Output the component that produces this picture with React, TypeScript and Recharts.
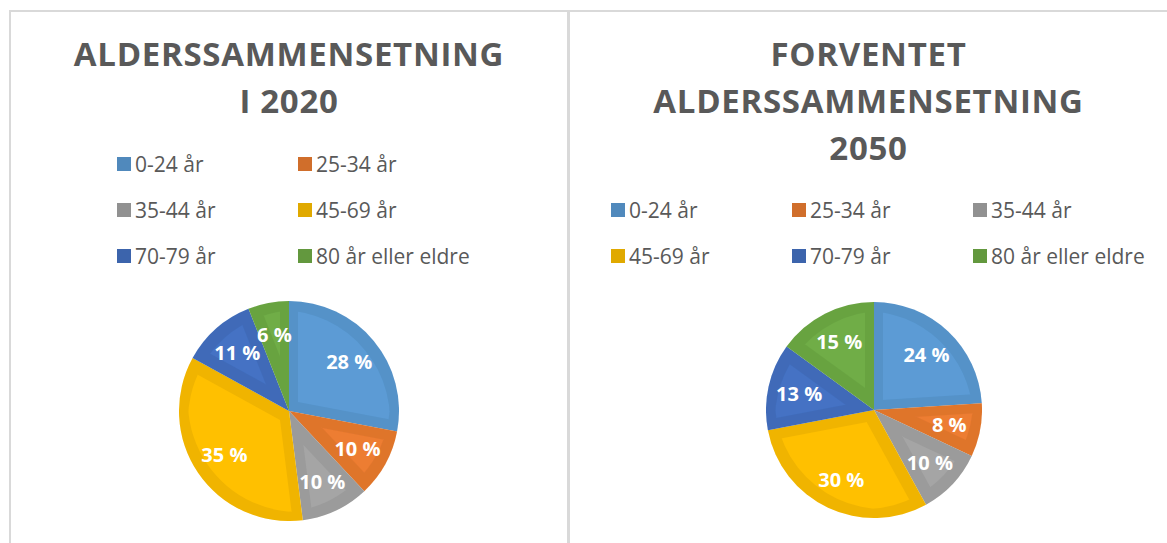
import { PieChart, Pie, Cell, Legend } from 'recharts'

const ageGroups = ['0-24 år', '25-34 år', '35-44 år', '45-69 år', '70-79 år', '80 år eller eldre']
const share2020 = [28, 10, 10, 35, 11, 6]
const share2050 = [24, 8, 10, 30, 13, 15]

const titleLeft = ['ALDERSSAMMENSETNING', 'I 2020']
const titleRight = ['FORVENTET', 'ALDERSSAMMENSETNING', '2050']

// office palette: face colour + darker rim
const fills = ['#5B9BD5', '#ED7D31', '#A5A5A5', '#FFC000', '#4472C4', '#70AD47']
const rims = ['#5089BC', '#D06E2B', '#919191', '#E0A900', '#3C64AC', '#63983E']

const GREY = '#595959'
const LINE = '#d9d9d9'
const FONT = '"Open Sans", "DejaVu Sans", sans-serif'
const RADIAN = Math.PI / 180

const toRows = (values: number[]) => ageGroups.map((name, i) => ({ name, value: values[i] }))

function renderLabel(props: any) {
  const { cx, cy, midAngle, outerRadius, value } = props
  const r = outerRadius * 0.71
  const x = cx + r * Math.cos(-midAngle * RADIAN)
  const y = cy + r * Math.sin(-midAngle * RADIAN)
  return (
    <text x={x} y={y} fill="#fff" textAnchor="middle" dominantBaseline="central"
      style={{ fontFamily: FONT, fontWeight: 700, fontSize: 20 }}>
      {`${value} %`}
    </text>
  )
}

function makeLegend(cols: number) {
  return function LegendContent(props: any) {
    const items = props.payload ?? []
    return (
      <div style={{ display: 'grid', gridTemplateColumns: `repeat(${cols}, 181px)`, gridAutoRows: 46 }}>
        {items.map((p: any, i: number) => (
          <div key={i} style={{ display: 'flex', alignItems: 'center' }}>
            <span style={{ width: 14, height: 14, background: rims[i], marginRight: 4, flex: 'none' }} />
            <span style={{ fontFamily: FONT, fontSize: 21, color: GREY, lineHeight: 1, whiteSpace: 'nowrap' }}>
              {p.value}
            </span>
          </div>
        ))}
      </div>
    )
  }
}

function Title({ lines, left, width }: { lines: string[]; left: number; width: number }) {
  return (
    <div style={{
      position: 'absolute', left, top: 30, width, textAlign: 'center',
      fontFamily: FONT, fontWeight: 700, fontSize: 33, lineHeight: '47px',
      letterSpacing: 0.7, color: GREY,
    }}>
      {lines.map((l, i) => <div key={i}>{l}</div>)}
    </div>
  )
}

function AgePie({ values, cx, cy, r, legendLeft, legendTop, cols, width }: any) {
  return (
    <PieChart width={width} height={531} margin={{ top: 0, right: 0, bottom: 0, left: 0 }} className="inset-pie">
      <Pie
        data={toRows(values)}
        dataKey="value"
        nameKey="name"
        cx={cx}
        cy={cy}
        outerRadius={r}
        startAngle={90}
        endAngle={-270}
        stroke="none"
        labelLine={false}
        label={renderLabel}
        isAnimationActive={false}
      >
        {values.map((_: number, i: number) => <Cell key={i} fill={fills[i]} />)}
      </Pie>
      <Legend
        layout="horizontal"
        verticalAlign="middle"
        align="center"
        content={makeLegend(cols)}
        wrapperStyle={{ left: legendLeft, top: legendTop, width: cols * 181, height: 'auto' }}
      />
    </PieChart>
  )
}

export default function App() {
  return (
    <div style={{ position: 'absolute', left: 0, top: 0, width: 1167, height: 543, background: '#fff', overflow: 'hidden' }}>
      <svg width={0} height={0} style={{ position: 'absolute' }}>
        <defs>
          <filter id="rim" x="-5%" y="-5%" width="110%" height="110%">
            <feMorphology in="SourceAlpha" operator="erode" radius={9} result="core" />
            <feComposite in="SourceAlpha" in2="core" operator="out" result="ring" />
            <feFlood floodColor="#000" floodOpacity={0.13} />
            <feComposite in2="ring" operator="in" result="shade" />
            <feMerge>
              <feMergeNode in="SourceGraphic" />
              <feMergeNode in="shade" />
            </feMerge>
          </filter>
        </defs>
      </svg>
      <style>{`.inset-pie .recharts-pie-sector path { filter: url(#rim); }`}</style>

      {/* panel borders */}
      <div style={{ position: 'absolute', left: 9, top: 10, width: 1158, height: 2, background: LINE }} />
      <div style={{ position: 'absolute', left: 9, top: 10, width: 2, height: 533, background: LINE }} />
      <div style={{ position: 'absolute', left: 567, top: 10, width: 3, height: 533, background: LINE }} />

      <div style={{ position: 'absolute', left: 11, top: 12 }}>
        <AgePie values={share2020} cx={278} cy={399} r={110} legendLeft={106} legendTop={129} cols={2} width={556} />
      </div>
      <div style={{ position: 'absolute', left: 570, top: 12 }}>
        <AgePie values={share2050} cx={304} cy={398} r={108} legendLeft={41} legendTop={175} cols={3} width={597} />
      </div>

      <Title lines={titleLeft} left={11} width={556} />
      <Title lines={titleRight} left={570} width={597} />
    </div>
  )
}
